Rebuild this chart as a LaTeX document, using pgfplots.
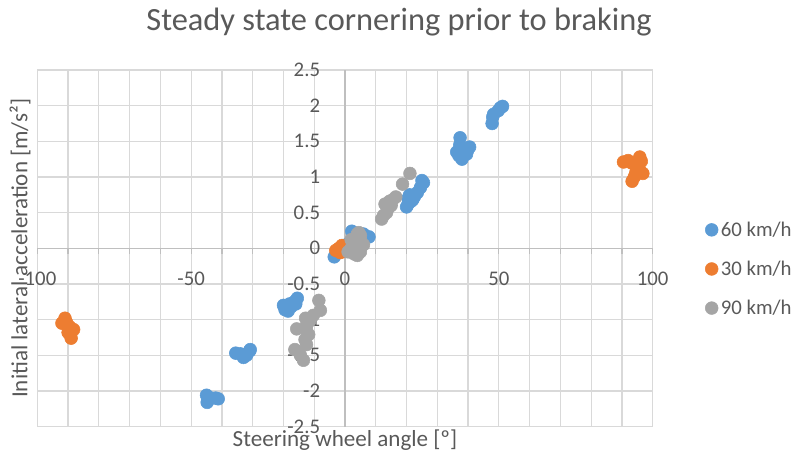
\documentclass[border=0pt]{standalone}
\usepackage{fontspec}
\setmainfont{Carlito}
\usepackage{pgfplots}
\pgfplotsset{compat=1.18}
\definecolor{cblue}{HTML}{5B9BD5}
\definecolor{corange}{HTML}{ED7D31}
\definecolor{cgray}{HTML}{A5A5A5}
\definecolor{txt}{HTML}{595959}
\definecolor{gridc}{HTML}{D9D9D9}
\definecolor{axc}{HTML}{BFBFBF}
\begin{document}
\begin{tikzpicture}
\path[use as bounding box] (-27.98pt,-26.55pt) rectangle (570.52pt,319.95pt);
\begin{axis}[
  at={(0,0)}, anchor=south west,
  scale only axis, width=461.55pt, height=267.45pt,
  xmin=-100, xmax=100, ymin=-2.5, ymax=2.5,
  enlargelimits=false,
  axis lines=middle,
  axis line style={draw=axc, line width=0.9pt, -},
  hide obscured x ticks=false, hide obscured y ticks=false,
  xtick={-100,-50,0,50,100},
  minor xtick={-90,-80,-70,-60,-40,-30,-20,-10,10,20,30,40,60,70,80,90},
  ytick={-2.5,-2,-1.5,-1,-0.5,0,0.5,1,1.5,2,2.5},
  grid=both,
  major grid style={draw=gridc, line width=0.9pt},
  minor grid style={draw=gridc, line width=0.9pt},
  x tick style={draw=axc, line width=0.9pt},
  y tick style={draw=none},
  tick align=outside,
  major tick length=4pt, minor tick length=4pt,
  /pgf/number format/assume math mode=true,
  ticklabel style={font=\fontsize{15.6}{18.7}\selectfont, text=txt, inner sep=0pt},
  xticklabel style={anchor=center, yshift=-19pt},
  yticklabel style={anchor=east, xshift=-14.5pt},
  every axis x label/.style={at={(axis description cs:0.5,-0.0376)}, anchor=center},
  every axis y label/.style={at={(axis description cs:-0.0281,0.5)}, anchor=center, rotate=90},
  xlabel={Steering wheel angle [º]},
  ylabel={Initial lateral acceleration [m/s²]},
  label style={font=\fontsize{17.3}{20.8}\selectfont, text=txt},
  title={Steady state cornering prior to braking},
  title style={at={(axis description cs:0.5878,1.113)}, anchor=center, font=\fontsize{24.3}{29}\selectfont, text=txt},
  legend style={at={(axis description cs:1.085,0.583)}, anchor=north west, draw=none, fill=none,
    font=\fontsize{15.6}{18.7}\selectfont, text=txt, row sep=13pt, inner sep=0pt},
  legend cell align=left,
  legend image code/.code={\draw[#1] plot coordinates {(0pt,0pt)};},
  clip=false,
]
\addplot[only marks, mark=*, mark size=4.8pt, color=cblue, mark options={draw=cblue, fill=cblue}] coordinates {
(-3.5,-0.12) (-2.5,-0.05) (-1,0.02) (0.5,0.05) (2,0.1) (2.2,0.24) (3,0.15) (4,0.08) (5.5,0.12) (7.8,0.16) (6,0.2)
(20,0.58) (20.5,0.62) (21.5,0.66) (22.5,0.72) (23.5,0.78) (24.5,0.85) (25.5,0.92) (25,0.95) (20.5,0.7) (21,0.75) (22,0.68)
(37.4,1.55) (37.3,1.45) (38.5,1.4) (40.5,1.42) (39.8,1.37) (36.3,1.35) (37,1.3) (38,1.25) (39.5,1.32) (38.5,1.33)
(51.2,1.99) (50.5,1.97) (49.8,1.93) (48.3,1.88) (48,1.84) (47.8,1.75)
(-20,-0.8) (-19.5,-0.86) (-18.5,-0.88) (-17.5,-0.82) (-16.5,-0.75) (-15.5,-0.7) (-16,-0.78) (-18,-0.78)
(-35.5,-1.47) (-34,-1.48) (-33,-1.53) (-32,-1.5) (-31,-1.44) (-30.8,-1.42)
(-45,-2.06) (-44.5,-2.12) (-43.5,-2.1) (-42,-2.1) (-41.2,-2.11) (-44.8,-2.16)
};
\addlegendentry{60 km/h}
\addplot[only marks, mark=*, mark size=4.8pt, color=corange, mark options={draw=corange, fill=corange}] coordinates {
(-3,-0.03) (-2,0.0) (-1.5,-0.06) (-0.5,0.02) (-1,0.04)
(90.5,1.21) (92,1.23) (93,1.2) (94,1.18) (95.8,1.28) (96.3,1.22) (95.5,1.13) (96.8,1.05) (94.5,1.06) (93.3,0.94) (94,1.0)
(-91,-0.98) (-92,-1.05) (-90.5,-1.04) (-89.5,-1.1) (-88.2,-1.14) (-89.5,-1.2) (-89,-1.26) (-90,-1.18)
};
\addlegendentry{30 km/h}
\addplot[only marks, mark=*, mark size=4.8pt, color=cgray, mark options={draw=cgray, fill=cgray}] coordinates {
(1,-0.05) (2,0.0) (2.5,0.05) (3,0.1) (3.5,0.15) (4,0.2) (4.5,0.22) (5,0.12) (3,-0.08) (4,-0.1) (5,-0.05) (6,0.05) (2,0.12) (3.5,0.0) (5,0.18)
(21.1,1.05) (18.7,0.9) (16.5,0.72) (15.5,0.68) (14.5,0.66) (13,0.62) (14,0.56) (13.5,0.5) (12.5,0.46) (11.9,0.41) (15,0.6)
(-8.5,-0.73) (-8,-0.87) (-10.3,-0.94) (-12.8,-0.98) (-11.5,-1.02) (-12.5,-1.08) (-15.7,-1.13) (-12.5,-1.15) (-11.8,-1.21) (-13,-1.28) (-12.5,-1.35) (-16.3,-1.42) (-15,-1.45) (-14.5,-1.5) (-13.5,-1.57)
};
\addlegendentry{90 km/h}
\end{axis}
\end{tikzpicture}
\end{document}
